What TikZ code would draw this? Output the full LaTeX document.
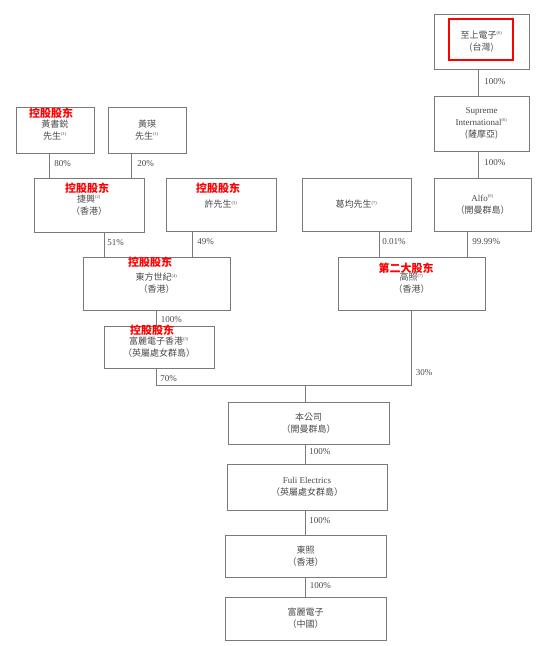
\documentclass[tikz,border=0pt]{standalone}
\usepackage{fontspec}
\setmainfont{Liberation Serif}
\newfontfamily\tcf{Noto Sans CJK TC}
\newfontfamily\scf{Noto Sans CJK SC}
\definecolor{txt}{HTML}{4A4A4A}
\definecolor{ln}{HTML}{7A7A7A}
\definecolor{redmark}{HTML}{FF0000}
\newcommand{\nt}[1]{\textsuperscript{\rmfamily\fontsize{4.5}{4.5}\selectfont(#1)}}
\newcommand{\lat}[1]{{\rmfamily\fontsize{9}{12}\selectfont #1}}
\begin{document}
\begin{tikzpicture}[x=1pt,y=-1pt,
  box/.style={draw=ln, line width=0.8pt, rectangle, inner sep=0pt, align=center,
    text=txt, font=\tcf\fontsize{9}{12}\selectfont},
  redbox/.style={draw=redmark, line width=1.4pt, rectangle, inner sep=0pt},
  pct/.style={font=\rmfamily\fontsize{9}{9}\selectfont, text=txt, inner sep=0pt, anchor=west},
  redlbl/.style={font=\scf\bfseries\fontsize{11}{11}\selectfont, text=redmark, inner sep=0pt},
  conn/.style={draw=ln, line width=0.8pt}]
\useasboundingbox (0,0) rectangle (550,646);
\fill[white] (0,0) rectangle (550,646);

% boxes
\node[box, minimum width=95, minimum height=55] (zs) at (481.5,41.5) {至上電子\nt{6}\\(台灣)};
\node[redbox, minimum width=64, minimum height=41] (zsmark) at (481,39.5) {};
\node[box, minimum width=95, minimum height=55] (sup) at (481.5,123.5) {\lat{Supreme}\\\lat{International}\nt{6}\\(薩摩亞)};
\node[box, minimum width=78, minimum height=46] (hsr) at (55,130) {黃書鋭\\先生\nt{1}};
\node[box, minimum width=78, minimum height=46] (hy) at (147,130) {黃瑛\\先生\nt{1}};
\node[box, minimum width=110, minimum height=54] (jx) at (89,205) {捷興\nt{2}\\（香港）};
\node[box, minimum width=110, minimum height=53] (xu) at (221,204.5) {許先生\nt{3}};
\node[box, minimum width=109, minimum height=53] (gj) at (356.5,204.5) {葛均先生\nt{7}};
\node[box, minimum width=97, minimum height=53] (alfo) at (482.5,204.5) {\lat{Alfo}\nt{6}\\（開曼群島）};
\node[box, minimum width=147, minimum height=53] (dfsj) at (156.5,283.5) {東方世紀\nt{4}\\（香港）};
\node[box, minimum width=147, minimum height=53] (gz) at (411.5,283.5) {高照\nt{7}\\（香港）};
\node[box, minimum width=110, minimum height=42] (flhk) at (159,347) {富麗電子香港\nt{5}\\（英屬處女群島）};
\node[box, minimum width=161, minimum height=42] (bgs) at (308.5,423) {本公司\\（開曼群島）};
\node[box, minimum width=160, minimum height=46] (fuli) at (307,487) {\lat{Fuli Electrics}\\（英屬處女群島）};
\node[box, minimum width=161, minimum height=42] (dz) at (305.5,556) {東照\\（香港）};
\node[box, minimum width=161, minimum height=43] (flz) at (305.5,618.5) {富麗電子\\（中國）};

% connectors
\draw[conn] ([xshift=-6pt]hsr.south) -- ([xshift=-6pt]hsr.south |- jx.north)
  node[pct, pos=0.4, xshift=5pt] {80\%};
\draw[conn] ([xshift=-16pt]hy.south) -- ([xshift=-16pt]hy.south |- jx.north)
  node[pct, pos=0.4, xshift=6pt] {20\%};
\draw[conn] ([xshift=-3.5pt]zs.south) -- ([xshift=-3.5pt]zs.south |- sup.north)
  node[pct, pos=0.48, xshift=6pt] {100\%};
\draw[conn] ([xshift=-3.5pt]sup.south) -- ([xshift=-3.5pt]sup.south |- alfo.north)
  node[pct, pos=0.44, xshift=6pt] {100\%};
\draw[conn] ([xshift=15pt]jx.south) -- ([xshift=15pt]jx.south |- dfsj.north)
  node[pct, pos=0.4, xshift=3pt] {51\%};
\draw[conn] ([xshift=-29pt]xu.south) -- ([xshift=-29pt]xu.south |- dfsj.north)
  node[pct, pos=0.42, xshift=5pt] {49\%};
\draw[conn] ([xshift=22.5pt]gj.south) -- ([xshift=22.5pt]gj.south |- gz.north)
  node[pct, pos=0.42, xshift=3pt] {0.01\%};
\draw[conn] ([xshift=-15.5pt]alfo.south) -- ([xshift=-15.5pt]alfo.south |- gz.north)
  node[pct, pos=0.42, xshift=5pt] {99.99\%};
\draw[conn] (dfsj.south) -- (dfsj.south |- flhk.north)
  node[pct, pos=0.62, xshift=4pt] {100\%};

\coordinate (jn) at (305,385);
\draw[conn] ([xshift=-3pt]flhk.south) -- ([xshift=-3pt]flhk.south |- jn)
  node[pct, pos=0.59, xshift=4pt] {70\%}
  -- (gz.south |- jn) -- (gz.south)
  node[pct, pos=0.17, xshift=4pt] {30\%};
\draw[conn] (jn) -- ([xshift=-3.5pt]bgs.north);
\draw[conn] ([xshift=-3.5pt]bgs.south) -- ([xshift=-3.5pt]bgs.south |- fuli.north)
  node[pct, pos=0.35, xshift=4pt] {100\%};
\draw[conn] ([xshift=-2pt]fuli.south) -- ([xshift=-2pt]fuli.south |- dz.north)
  node[pct, pos=0.44, xshift=4pt] {100\%};
\draw[conn] (dz.south) -- (dz.south |- flz.north)
  node[pct, pos=0.4, xshift=4pt] {100\%};

% red annotations
\node[redlbl] (r1) at (51,113) {控股股东};
\node[redlbl] (r2) at (87,188) {控股股东};
\node[redlbl] (r3) at (218,188) {控股股东};
\node[redlbl] (r4) at (150,262) {控股股东};
\node[redlbl] (r5) at (152,330) {控股股东};
\node[redlbl] (r6) at (406,268) {第二大股东};
\end{tikzpicture}
\end{document}
